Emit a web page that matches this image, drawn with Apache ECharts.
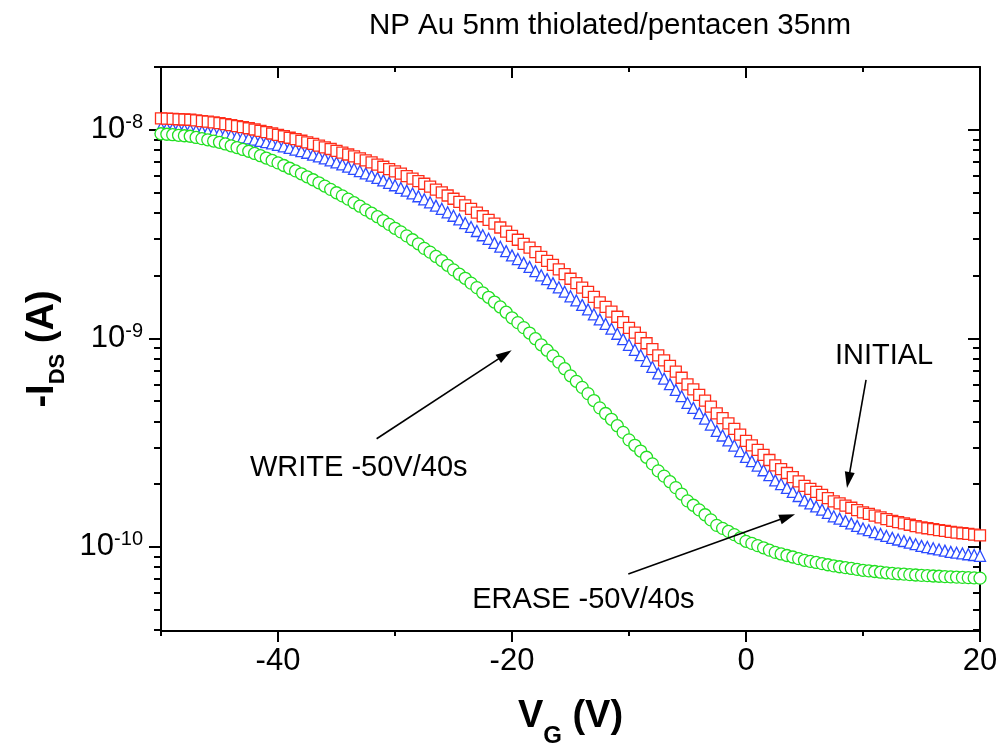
<!DOCTYPE html>
<html><head><meta charset="utf-8">
<script src="https://cdn.jsdelivr.net/npm/echarts@6/dist/echarts.min.js"></script>
<style>html,body{margin:0;padding:0;background:#fff}#c{width:1001px;height:747px}</style>
</head><body><div id="c"></div>
<script>
// Gate voltage (V)
const vg = [-50,-49.5,-49,-48.5,-48,-47.5,-47,-46.5,-46,-45.5,-45,-44.5,-44,-43.5,-43,-42.5,-42,-41.5,-41,-40.5,
-40,-39.5,-39,-38.5,-38,-37.5,-37,-36.5,-36,-35.5,-35,-34.5,-34,-33.5,-33,-32.5,-32,-31.5,-31,-30.5,
-30,-29.5,-29,-28.5,-28,-27.5,-27,-26.5,-26,-25.5,-25,-24.5,-24,-23.5,-23,-22.5,-22,-21.5,-21,-20.5,
-20,-19.5,-19,-18.5,-18,-17.5,-17,-16.5,-16,-15.5,-15,-14.5,-14,-13.5,-13,-12.5,-12,-11.5,-11,-10.5,
-10,-9.5,-9,-8.5,-8,-7.5,-7,-6.5,-6,-5.5,-5,-4.5,-4,-3.5,-3,-2.5,-2,-1.5,-1,-0.5,
0,0.5,1,1.5,2,2.5,3,3.5,4,4.5,5,5.5,6,6.5,7,7.5,8,8.5,9,9.5,
10,10.5,11,11.5,12,12.5,13,13.5,14,14.5,15,15.5,16,16.5,17,17.5,18,18.5,19,19.5,20];

// -I_DS in nA
const idsInitial_nA = [11.33,11.30,11.27,11.23,11.20, 11.17,11.09,11.01,10.93,10.85, 10.77,10.65,10.53,10.41,10.29,
10.17,10.03,9.89,9.74,9.60, 9.46,9.31,9.16,9.01,8.86, 8.71,8.55,8.40,8.24,8.09, 7.93,7.77,7.61,7.46,7.30,
7.14,6.98,6.81,6.65,6.48, 6.32,6.16,6.00,5.83,5.67, 5.51,5.34,5.17,5.01,4.84, 4.67,4.51,4.34,4.18,4.01,
3.85,3.70,3.55,3.40,3.25, 3.10,2.97,2.84,2.72,2.59, 2.46,2.35,2.25,2.14,2.03, 1.93,1.84,1.75,1.67,1.58,
1.488,1.415,1.342,1.269,1.196, 1.123,1.064,1.005,0.947,0.888, 0.829,0.784,0.738,0.693,0.647,
0.602,0.569,0.536,0.503,0.470, 0.437,0.414,0.391,0.368,0.345, 0.322,0.307,0.292,0.276,0.261,
0.246,0.236,0.226,0.216,0.206, 0.196,0.1899,0.1837,0.1776,0.1714, 0.1653,0.1615,0.1577,0.1540,0.1502,
0.1464,0.1438,0.1411,0.1385,0.1358, 0.1332,0.1314,0.1295,0.1277,0.1258, 0.1240,0.1228,0.1216,0.1204,0.1192,
0.1180,0.1171,0.1162,0.1154,0.1145, 0.1136];

const idsErase_nA = [10.22,10.18,10.13,10.09,10.04, 10.00,9.92,9.85,9.77,9.70, 9.62,9.52,9.41,9.31,9.20,
9.10,8.97,8.85,8.72,8.60, 8.47,8.33,8.19,8.04,7.90, 7.76,7.60,7.45,7.29,7.14, 6.98,6.82,6.66,6.50,6.34,
6.18,6.03,5.88,5.72,5.57, 5.42,5.26,5.11,4.95,4.80, 4.64,4.49,4.33,4.18,4.02, 3.87,3.72,3.57,3.42,3.27,
3.12,3.00,2.87,2.75,2.62, 2.50,2.40,2.30,2.20,2.10, 2.005,1.922,1.839,1.756,1.673, 1.590,1.519,1.447,1.376,1.304,
1.233,1.173,1.112,1.052,0.991, 0.931,0.881,0.830,0.780,0.729, 0.679,0.641,0.603,0.566,0.528,
0.490,0.464,0.438,0.412,0.386, 0.360,0.342,0.324,0.306,0.288, 0.270,0.2577,0.2454,0.2330,0.2207,
0.2084,0.2001,0.1919,0.1836,0.1754, 0.1671,0.1617,0.1563,0.1509,0.1455, 0.1401,0.1366,0.1331,0.1296,0.1261,
0.1226,0.1202,0.1177,0.1153,0.1128, 0.1104,0.1085,0.1067,0.1048,0.1030, 0.1011,0.0998,0.0985,0.0972,0.0959,
0.0946,0.0938,0.0930,0.0922,0.0914, 0.0906];

const idsWrite_nA = [9.57,9.52,9.47,9.41,9.36, 9.31,9.19,9.07,8.95,8.83, 8.71,8.55,8.38,8.22,8.05,
7.89,7.70,7.51,7.32,7.13, 6.94,6.74,6.54,6.35,6.15, 5.95,5.76,5.57,5.37,5.18, 4.99,4.82,4.65,4.47,4.30,
4.13,3.98,3.83,3.67,3.52, 3.37,3.24,3.10,2.97,2.84, 2.70,2.59,2.47,2.36,2.24, 2.13,2.03,1.94,1.84,1.75,
1.653,1.573,1.493,1.414,1.334, 1.254,1.189,1.125,1.060,0.996, 0.931,0.877,0.823,0.769,0.715,
0.661,0.622,0.582,0.543,0.503, 0.464,0.436,0.409,0.381,0.354, 0.326,0.307,0.288,0.269,0.250,
0.2314,0.2184,0.2053,0.1923,0.1792, 0.1662,0.1583,0.1504,0.1426,0.1347, 0.1268,0.1227,0.1186,0.1145,0.1104,
0.1063,0.1039,0.1014,0.0990,0.0965, 0.0941,0.0925,0.0909,0.0894,0.0878, 0.0862,0.0852,0.0842,0.0831,0.0821,
0.0811,0.0803,0.0795,0.0788,0.0780, 0.0772,0.0767,0.0762,0.0756,0.0751, 0.0746,0.0743,0.0740,0.0736,0.0733,
0.0730,0.0728,0.0725,0.0723,0.0720, 0.0718,0.0716,0.0714,0.0712,0.0710, 0.0708];

// axes (currents in A)
const xRange = [-50, 20];
const xMajorTicks = [-40, -20, 0, 20];
const xMinorTicks = [-50, -30, -10, 10];
const yRange = [3.95e-11, 2.0e-8];
const yMajorTicks = [1e-10, 1e-9, 1e-8];
const yMinorTicks = [4e-11,5e-11,6e-11,7e-11,8e-11,9e-11,
  2e-10,3e-10,4e-10,5e-10,6e-10,7e-10,8e-10,9e-10,
  2e-9,3e-9,4e-9,5e-9,6e-9,7e-9,8e-9,9e-9, 2e-8];

// annotations: [V_G, I(A)]
const labels = [
  {text: 'INITIAL', at: [11.8, 8.24e-10]},
  {text: 'WRITE -50V/40s', at: [-33.1, 2.39e-10]},
  {text: 'ERASE -50V/40s', at: [-13.9, 5.57e-11]}
];
const arrows = [
  [[10.26, 6.32e-10], [8.75, 2.09e-10]],
  [[-31.57, 3.30e-10], [-20.6, 8.36e-10]],
  [[-10.06, 7.41e-11], [3.55, 1.393e-10]]
];

const FONT = '"Liberation Sans", Arial, Helvetica, sans-serif';
const lg = v => Math.log10(v);
const pts = arr => arr.map((v, i) => [vg[i], lg(v * 1e-9)]);
const black = '#000';

function xAx(pos, ticks, len, inside, withLabels, withLine) {
  return {
    type: 'value', position: pos, min: xRange[0], max: xRange[1], offset: 0,
    axisLine: {show: withLine, onZero: false, lineStyle: {color: black, width: 2}},
    axisTick: {show: true, inside: inside, length: len, customValues: ticks, lineStyle: {color: black, width: 2}},
    axisLabel: withLabels ? {show: true, customValues: ticks, margin: 15, fontSize: 31, color: black, fontFamily: FONT} : {show: false},
    splitLine: {show: false}
  };
}
function yAx(pos, ticks, len, inside, withLabels, withLine) {
  return {
    type: 'value', position: pos, min: lg(yRange[0]), max: lg(yRange[1]), offset: 0,
    axisLine: {show: withLine, onZero: false, lineStyle: {color: black, width: 2}},
    axisTick: {show: true, inside: inside, length: len, customValues: ticks.map(lg), lineStyle: {color: black, width: 2}},
    axisLabel: withLabels ? {
      show: true, customValues: ticks.map(lg), margin: 18, color: black, fontFamily: FONT,
      formatter: v => '{b|10}{e|' + Math.round(v) + '}',
      rich: {b: {fontSize: 31, lineHeight: 34, fontFamily: FONT, color: black},
             e: {fontSize: 20, lineHeight: 20, verticalAlign: 'top', fontFamily: FONT, color: black}}
    } : {show: false},
    splitLine: {show: false}
  };
}

const xAxes = [
  xAx('bottom', xMajorTicks, 11, false, true, true),
  xAx('bottom', xMinorTicks, 5, false, false, false),
  xAx('top', xMajorTicks, 11, true, false, true),
  xAx('top', xMinorTicks, 5, true, false, false)
];
Object.assign(xAxes[0], {
  name: '{v|V}{g|G}{v| (V)}', nameLocation: 'middle', nameGap: 55,
  nameTextStyle: {rich: {
    v: {fontSize: 38, fontWeight: 'bold', lineHeight: 62, fontFamily: FONT, color: black},
    g: {fontSize: 24, fontWeight: 'bold', lineHeight: 24, verticalAlign: 'bottom', fontFamily: FONT, color: black}
  }}
});
const yAxes = [
  yAx('left', yMajorTicks, 12, false, true, true),
  yAx('left', yMinorTicks, 7, false, false, false),
  yAx('right', yMajorTicks, 12, true, false, true),
  yAx('right', yMinorTicks, 7, true, false, false)
];
Object.assign(yAxes[0], {
  name: '{a|-I}{s|DS}{a| (A)}', nameLocation: 'middle', nameGap: 92, nameRotate: 90,
  nameTextStyle: {rich: {
    a: {fontSize: 38, fontWeight: 'bold', lineHeight: 52, fontFamily: FONT, color: black},
    s: {fontSize: 22, fontWeight: 'bold', lineHeight: 22, verticalAlign: 'bottom', fontFamily: FONT, color: black}
  }}
});

function sc(name, data, symbol, size, color, z) {
  return {
    name: name, type: 'scatter', data: pts(data), symbol: symbol, symbolSize: size, z: z,
    xAxisIndex: 0, yAxisIndex: 0, silent: true,
    itemStyle: {color: '#fff', borderColor: color, borderWidth: 1.3, opacity: 1}
  };
}

const chart = echarts.init(document.getElementById('c'), null, {renderer: 'canvas'});
const series = [
  sc('ERASE -50V/40s', idsErase_nA, 'triangle', 11, '#2b4bff', 2),
  sc('INITIAL', idsInitial_nA, 'rect', 11, '#ff2d1a', 3),
  sc('WRITE -50V/40s', idsWrite_nA, 'circle', 12, '#22e022', 4)
];
series[2].markLine = {
  silent: true, animation: false,
  symbol: ['none', 'path://M5,0L10,16L0,16Z'], symbolSize: 16, symbolKeepAspect: true,
  label: {show: false},
  itemStyle: {color: black},
  lineStyle: {color: black, width: 1.6, type: 'solid'},
  data: arrows.map(a => [{coord: [a[0][0], lg(a[0][1])]},
                         {coord: [a[1][0], lg(a[1][1])]}])
};

chart.setOption({
  animation: false,
  backgroundColor: '#fff',
  title: {text: 'NP Au 5nm thiolated/pentacen 35nm', left: 605, top: 6, textAlign: 'center',
          textStyle: {fontSize: 29.5, fontWeight: 'normal', color: black, fontFamily: FONT}},
  grid: {left: 161, right: 21, top: 67, bottom: 116, containLabel: false, outerBoundsMode: 'none'},
  xAxis: xAxes,
  yAxis: yAxes,
  series: series
});

const g = labels.map(l => {
  const p = chart.convertToPixel({xAxisIndex: 0, yAxisIndex: 0}, [l.at[0], lg(l.at[1])]);
  return {type: 'text', x: p[0], y: p[1], silent: true, z: 10,
          style: {text: l.text, fontSize: 29, fontFamily: FONT, fill: black, align: 'center', verticalAlign: 'middle'}};
});
chart.setOption({graphic: g});
</script></body></html>
